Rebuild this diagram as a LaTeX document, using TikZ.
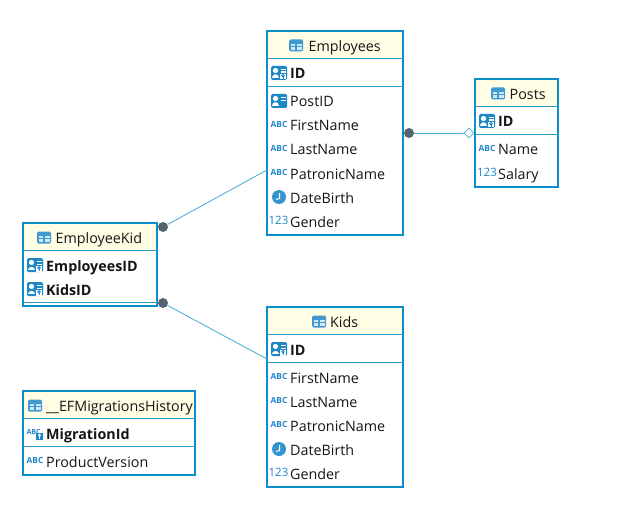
\documentclass[tikz,border=0pt]{standalone}
\usepackage{fontspec}
\setmainfont{Open Sans}
\usetikzlibrary{shapes.geometric}
\definecolor{tblue}{HTML}{0A8FCB}
\definecolor{iconblue}{HTML}{1E88C7}
\definecolor{sepblue}{HTML}{2C9CCB}
\definecolor{linkblue}{HTML}{45ACD8}
\definecolor{headfill}{HTML}{FFFDE3}
\definecolor{dotgrey}{HTML}{56646E}
\definecolor{txt}{HTML}{161616}
\tikzset{
  x=1pt,y=-1pt,
  tablebox/.style={draw=tblue,line width=2pt,fill=white,rectangle,inner sep=0pt,outer sep=0pt,anchor=north west},
  headbox/.style={fill=headfill,rectangle,inner sep=0pt,outer sep=0pt,anchor=north west},
  tabletitle/.style={anchor=base west,inner sep=0pt,text=txt,font=\fontsize{14.3}{16}\selectfont},
  rowtext/.style={anchor=base west,inner sep=0pt,text=txt,font=\fontsize{14.3}{16}\selectfont},
  keytext/.style={rowtext,font=\fontsize{14.3}{16}\selectfont\bfseries},
  sep/.style={draw=sepblue,line width=1pt},
  link/.style={draw=linkblue,line width=.8pt},
  enddot/.style={circle,fill=dotgrey,draw=none,minimum size=10pt,inner sep=0pt},
  enddiamond/.style={diamond,draw=linkblue,fill=white,line width=.8pt,minimum size=10pt,inner sep=0pt},
  abctext/.style={anchor=center,inner sep=0pt,text=iconblue,font=\fontsize{8.4}{9}\selectfont\bfseries},
  numtext/.style={anchor=center,inner sep=0pt,text=iconblue,font=\fontsize{11.5}{12}\selectfont},
  pics/tableicon/.style={code={
    \fill[iconblue!85!white,rounded corners=1.5pt] (-7,-6) rectangle (7,6);
    \fill[white!80!iconblue] (-5.5,-1.5) rectangle (-.6,4.5);
    \fill[white!80!iconblue] (.6,-1.5) rectangle (5.5,4.5);
    \fill[iconblue!85!white] (-6,.6) rectangle (6,1.5);
  }},
  pics/cardicon/.style={code={
    \fill[iconblue,rounded corners=1.5pt] (-8,-7) rectangle (8,7);
    \fill[white] (-3.5,-2.5) circle (2.6);
    \fill[white] (-7,5) .. controls (-7,.5) and (0,.5) .. (0,5) -- cycle;
    \fill[white] (1.5,-4) rectangle (6.5,-2.8);
    \fill[white] (1.5,-1) rectangle (6.5,.2);
  }},
  pics/keycardicon/.style={code={
    \fill[iconblue,rounded corners=1.5pt] (-8,-7) rectangle (8,7);
    \fill[white] (-3.5,-2.5) circle (2.6);
    \fill[white] (-7,5) .. controls (-7,.5) and (0,.5) .. (0,5) -- cycle;
    \fill[white] (1.5,-4) rectangle (6.5,-2.8);
    \fill[white] (1.5,-1.5) rectangle (6.5,-.4);
    \fill[white] (1,.8) rectangle (7,6.5);
    \draw[iconblue,line width=.9pt] (4,2.8) circle (1.2);
    \draw[iconblue,line width=.9pt] (4,4) -- (4,6.2);
  }},
  pics/clockicon/.style={code={
    \fill[iconblue!90!white] (0,0) circle (7);
    \draw[white,line width=1pt] (.5,-4) -- (.5,1.5) -- (-3,2.5);
  }},
  pics/keyabcicon/.style={code={
    \node[abctext,font=\fontsize{7}{8}\selectfont\bfseries] (#1) at (-1.5,-1.5) {ABC};
    \fill[iconblue] (1,0) rectangle (8,7);
    \draw[white,line width=.8pt] (4.5,2.2) circle (1.1);
    \draw[white,line width=.8pt] (4.5,3.4) -- (4.5,6);
  }}
}
% \tbl{name}{x0}{y0}{x1}{y1}{header bottom}{title x}{icon x}{title}
\newcommand{\tbl}[9]{%
  \node[tablebox,minimum width={(#4-#2)*1pt},minimum height={(#5-#3)*1pt}] (#1) at (#2,#3) {};
  \node[headbox,minimum width={(#4-#2-2)*1pt},minimum height={(#6-#3-1)*1pt}] (#1head) at (#2+1,#3+1) {};
  \draw[sep] (#2,#6) -- (#4,#6);
  \pic at (#8,#3+14.5) {tableicon};
  \node[tabletitle] (#1title) at (#7,#3+20.5) {#9};
}
\newcommand{\rowsep}[3]{\draw[sep] (#1,#3) -- (#2,#3);}
\newcommand{\picrow}[7]{%
  \pic at (#3,#5) {#2};
  \node[#6] (#1) at (#4,#5+6) {#7};
}
\newcommand{\abcrow}[5]{%
  \node[abctext] (#1icon) at (#2,#4-.5) {ABC};
  \node[rowtext] (#1) at (#3,#4+6) {#5};
}
\newcommand{\numrow}[5]{%
  \node[numtext] (#1icon) at (#2,#4-1) {123};
  \node[rowtext] (#1) at (#3,#4+6) {#5};
}
\begin{document}
\begin{tikzpicture}
\useasboundingbox[fill=white] (0,0) rectangle (623,513);

% Employees
\tbl{emp}{267}{31}{403}{235}{58.5}{308.5}{296}{Employees}
\rowsep{267}{403}{86.5}
\picrow{empid}{keycardicon}{279}{290}{73}{keytext}{ID}
\picrow{emppost}{cardicon}{279}{290}{101}{rowtext}{PostID}
\abcrow{empfirst}{279}{290}{125}{FirstName}
\abcrow{emplast}{279}{290}{149}{LastName}
\abcrow{emppat}{279}{290}{173}{PatronicName}
\picrow{empdate}{clockicon}{279}{290}{197}{rowtext}{DateBirth}
\numrow{empgen}{278.5}{290}{221}{Gender}

% Posts
\tbl{posts}{475}{79}{558}{187}{106.5}{509.5}{498}{Posts}
\rowsep{475}{558}{134.5}
\picrow{postid}{keycardicon}{487}{498}{121}{keytext}{ID}
\abcrow{postname}{487}{498}{149}{Name}
\numrow{postsal}{487}{498}{173}{Salary}

% EmployeeKid
\tbl{ek}{23}{223}{157}{306}{250.5}{55.5}{44}{EmployeeKid}
\rowsep{23}{157}{302}
\picrow{ekemp}{keycardicon}{35}{46}{265}{keytext}{EmployeesID}
\picrow{ekkid}{keycardicon}{35}{46}{289}{keytext}{KidsID}

% Kids
\tbl{kids}{267}{307}{403}{487}{334.5}{330}{319}{Kids}
\rowsep{267}{403}{362.5}
\picrow{kidid}{keycardicon}{279}{290}{349}{keytext}{ID}
\abcrow{kidfirst}{279}{290}{377}{FirstName}
\abcrow{kidlast}{279}{290}{401}{LastName}
\abcrow{kidpat}{279}{290}{425}{PatronicName}
\picrow{kiddate}{clockicon}{279}{290}{449}{rowtext}{DateBirth}
\numrow{kidgen}{278.5}{290}{473}{Gender}

% History
\tbl{ef}{23}{391}{195}{475}{418.5}{46}{35}{\_\_EFMigrationsHistory}
\rowsep{23}{195}{446.5}
\pic at (35,433) {keyabcicon=efkeyicon};
\node[keytext] (efid) at (46,439) {MigrationId};
\abcrow{efver}{35}{46}{461}{ProductVersion}

% Relations
\coordinate (empend) at (emp.west |- 0,170);
\coordinate (kidend) at (kids.west |- 0,359);
\node[enddot] (d1) at (409,133) {};
\node[enddiamond] (d2) at (469,133) {};
\node[enddot] (d3) at (163,227) {};
\node[enddot] (d4) at (163,303) {};
\draw[link] (d1) -- (d2);
\draw[link] (d3) -- (empend);
\draw[link] (d4) -- (kidend);
\end{tikzpicture}
\end{document}
